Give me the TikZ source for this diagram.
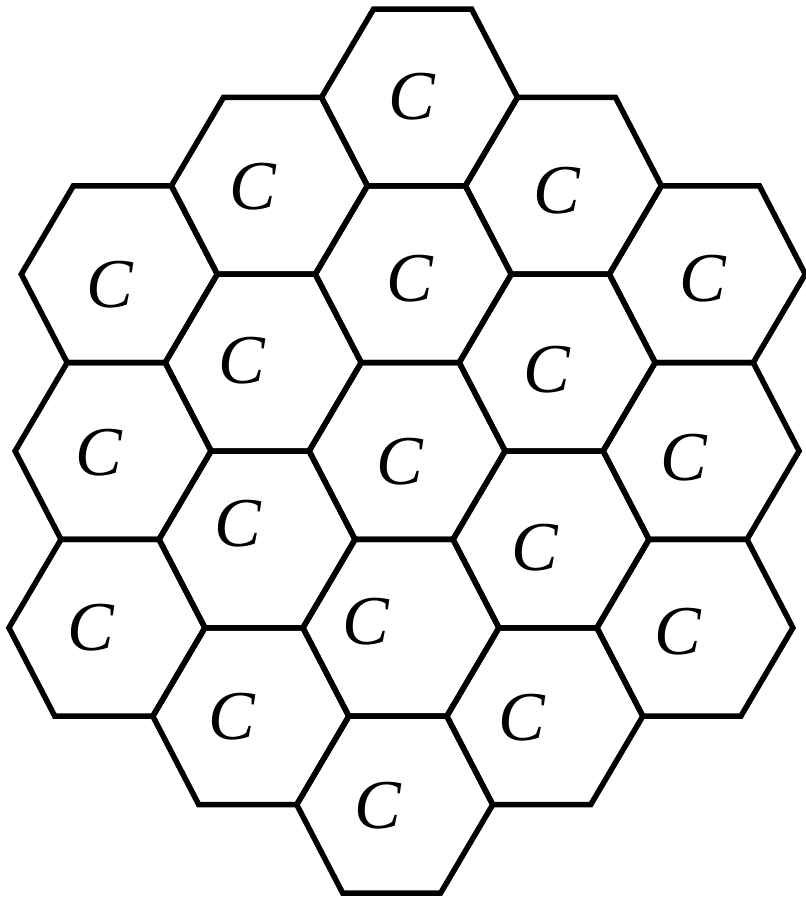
\documentclass[tikz,border=0pt]{standalone}
\usepackage{fontspec}
\setmainfont{Liberation Serif}
\usepackage{tikz}

\begin{document}
\begin{tikzpicture}[x=1pt,y=-1pt,
  cellline/.style={line width=5.5pt,line join=miter},
  celllabel/.style={font=\fontsize{70}{70}\selectfont\itshape,inner sep=0pt}]
  \useasboundingbox (0,0) rectangle (806,903);
  % hexagonal cells, five columns, slightly skewed like the scan
  \begin{scope}[xslant=0.035]
    \foreach \col/\ystart/\nrow in {-2/274.2/3,-1/185.8/4,0/97.4/5,1/185.8/4,2/274.2/3}{
      \foreach \k in {1,...,\nrow}{
        \pgfmathsetmacro\cx{422.9+147*\col}
        \pgfmathsetmacro\cy{\ystart+176.8*(\k-1)}
        \draw[cellline] (\cx,\cy) ++(-98,0) -- ++(49,-88.4) -- ++(98,0)
          -- ++(49,88.4) -- ++(-49,88.4) -- ++(-98,0) -- cycle;
      }
    }
  \end{scope}
  % cell labels
  \foreach \name/\lx/\ly in {wa/110/285,wb/99/453,wc/91/628,
      nwa/253/187,nwb/242/361,nwc/238/524,nwd/232/717,
      ma/412/97,mb/410/279,mc/400/462,md/366/622,me/378/806,
      nea/557/191,neb/547/370,nec/535/548,ned/522/718,
      ea/703/279,eb/684/458,ec/678/632}
    \node[celllabel] (lbl\name) at (\lx,\ly) {C};
\end{tikzpicture}
\end{document}
